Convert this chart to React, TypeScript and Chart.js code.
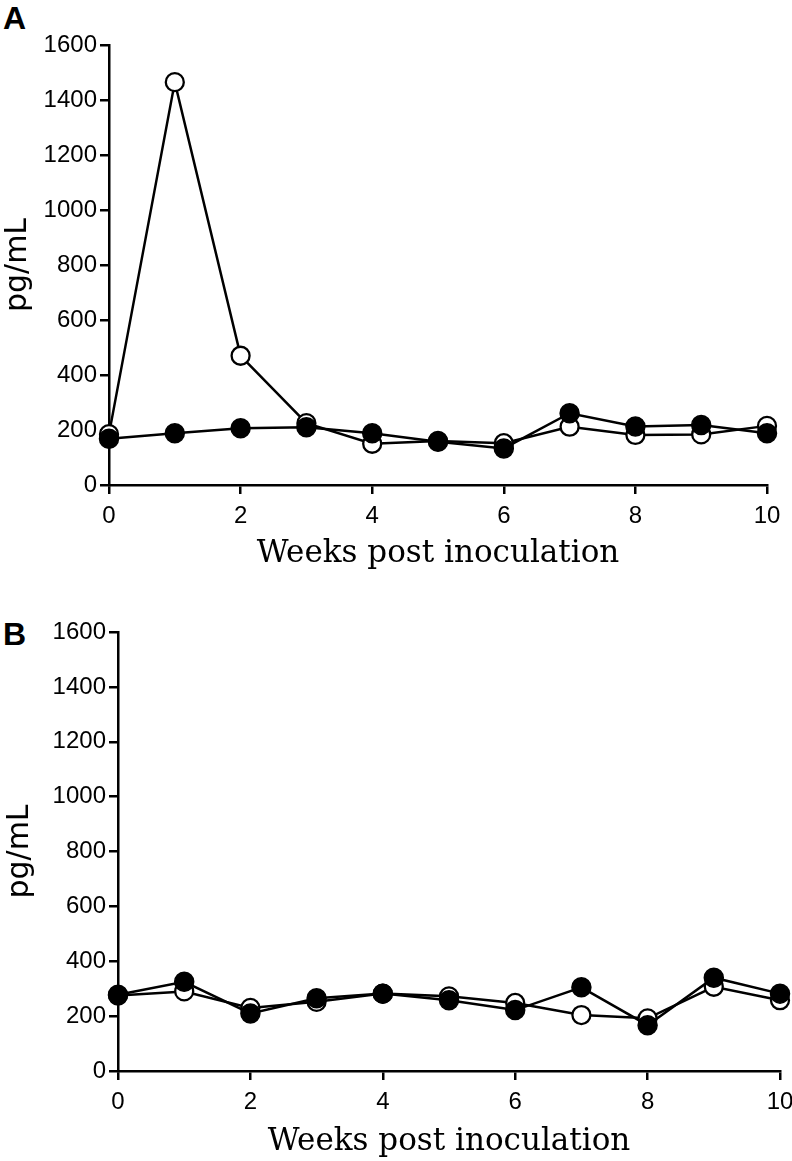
import React, { useEffect, useRef } from "react";
import { Chart, registerables } from "chart.js";

Chart.register(...registerables);

const weeks = [0, 1, 2, 3, 4, 5, 6, 7, 8, 9, 10];
const panelAOpen = [185, 1465, 470, 225, 150, 160, 152, 212, 182, 184, 215];
const panelAFilled = [168, 188, 206, 210, 188, 157, 133, 261, 213, 218, 188];
const panelBOpen = [275, 290, 230, 252, 282, 272, 248, 204, 192, 307, 258];
const panelBFilled = [278, 325, 210, 265, 282, 258, 222, 305, 167, 340, 282];
const yTickValues = [0, 200, 400, 600, 800, 1000, 1200, 1400, 1600];
const xTickValues = [0, 2, 4, 6, 8, 10];
const xTitle = "Weeks post inoculation";
const yTitle = "pg/mL";

type Dims = {
  top: number;
  height: number;
  yAxisWidth: number;
  xAxisHeight: number;
  padTop: number;
  padRight: number;
  padBottom: number;
  yTitlePad: number;
};

const SANS = "'Liberation Sans', Arial, Helvetica, sans-serif";

function Panel({ open, filled, dims }: { open: number[]; filled: number[]; dims: Dims }) {
  const ref = useRef<HTMLCanvasElement | null>(null);
  useEffect(() => {
    if (!ref.current) return;
    const toPts = (arr: number[]) => weeks.map((w, i) => ({ x: w, y: arr[i] }));
    const tickFont = { family: SANS, size: 24 };
    const chart = new Chart(ref.current, {
      type: "line",
      data: {
        datasets: [
          {
            label: "filled",
            data: toPts(filled),
            borderColor: "#000",
            backgroundColor: "#000",
            pointBackgroundColor: "#000",
            pointBorderColor: "#000",
            pointRadius: 9.5,
            pointBorderWidth: 1.5,
            borderWidth: 2.5,
            tension: 0,
            clip: false,
          } as any,
          {
            label: "open",
            data: toPts(open),
            borderColor: "#000",
            backgroundColor: "#fff",
            pointBackgroundColor: "#fff",
            pointBorderColor: "#000",
            pointRadius: 9,
            pointBorderWidth: 2.3,
            borderWidth: 2.5,
            tension: 0,
            clip: false,
          } as any,
        ],
      },
      options: {
        responsive: false,
        animation: false,
        events: [],
        layout: {
          padding: { left: 0, right: dims.padRight, top: dims.padTop, bottom: dims.padBottom },
        },
        plugins: { legend: { display: false }, tooltip: { enabled: false } },
        scales: {
          x: {
            type: "linear",
            min: 0,
            max: 10,
            afterBuildTicks: (s: any) => {
              s.ticks = xTickValues.map((v) => ({ value: v }));
            },
            ticks: {
              color: "#000",
              font: tickFont,
              padding: 8,
              maxRotation: 0,
              autoSkip: false,
              callback: (v: any) => String(v),
            },
            grid: { drawOnChartArea: false, drawTicks: true, tickLength: 9, color: "#000", lineWidth: 2.5 },
            border: { display: true, color: "#000", width: 2.5 },
            title: {
              display: true,
              text: xTitle,
              color: "#000",
              font: { family: "'DejaVu Serif', 'Liberation Serif', serif", size: 31 },
              padding: 0,
            },
            afterFit: (s: any) => {
              s.height = dims.xAxisHeight;
              s.paddingLeft = 0;
              s.paddingRight = 0;
            },
          },
          y: {
            type: "linear",
            min: 0,
            max: 1600,
            afterBuildTicks: (s: any) => {
              s.ticks = yTickValues.map((v) => ({ value: v }));
            },
            ticks: {
              color: "#000",
              font: tickFont,
              padding: 3,
              autoSkip: false,
              callback: (v: any) => String(v),
            },
            grid: { drawOnChartArea: false, drawTicks: true, tickLength: 9, color: "#000", lineWidth: 2.5 },
            border: { display: true, color: "#000", width: 2.5 },
            title: {
              display: true,
              text: yTitle,
              color: "#000",
              font: { family: "'DejaVu Sans', sans-serif", size: 30 },
              padding: { top: dims.yTitlePad, bottom: 0 },
            },
            afterFit: (s: any) => {
              s.width = dims.yAxisWidth;
              s.paddingTop = 0;
              s.paddingBottom = 0;
            },
          },
        },
      } as any,
    });
    return () => chart.destroy();
  }, []);
  return (
    <canvas
      ref={ref}
      width={792}
      height={dims.height}
      style={{ position: "absolute", left: 0, top: dims.top, width: 792, height: dims.height }}
    />
  );
}

const dimsA: Dims = {
  top: 0,
  height: 580,
  yAxisWidth: 109,
  xAxisHeight: 88,
  padTop: 45,
  padRight: 25,
  padBottom: 7,
  yTitlePad: 0,
};

const dimsB: Dims = {
  top: 580,
  height: 581,
  yAxisWidth: 118,
  xAxisHeight: 90,
  padTop: 52,
  padRight: 12,
  padBottom: 0,
  yTitlePad: 2,
};

const labelStyle: React.CSSProperties = {
  position: "absolute",
  left: 3,
  fontFamily: SANS,
  fontWeight: "bold",
  fontSize: 32,
  lineHeight: 1,
  color: "#000",
};

export default function App() {
  return (
    <div style={{ position: "absolute", left: 0, top: 0, width: 792, height: 1161, background: "#fff" }}>
      <div style={{ ...labelStyle, top: 2 }}>A</div>
      <Panel open={panelAOpen} filled={panelAFilled} dims={dimsA} />
      <div style={{ ...labelStyle, top: 618 }}>B</div>
      <Panel open={panelBOpen} filled={panelBFilled} dims={dimsB} />
    </div>
  );
}
